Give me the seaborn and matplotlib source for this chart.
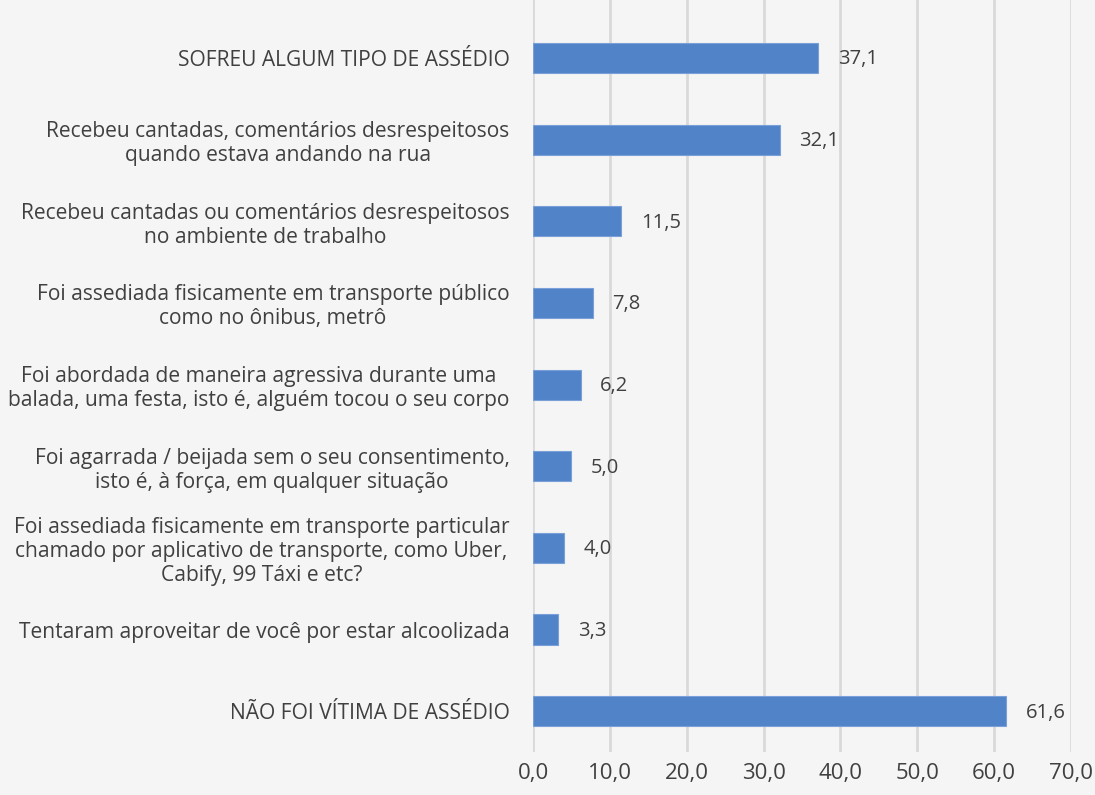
import pandas as pd
import seaborn as sb
import matplotlib.pyplot as plt

categories = [
    'SOFREU ALGUM TIPO DE ASSÉDIO',
    'Recebeu cantadas, comentários desrespeitosos\nquando estava andando na rua',
    'Recebeu cantadas ou comentários desrespeitosos\nno ambiente de trabalho',
    'Foi assediada fisicamente em transporte público\ncomo no ônibus, metrô',
    'Foi abordada de maneira agressiva durante uma\nbalada, uma festa, isto é, alguém tocou o seu corpo',
    'Foi agarrada / beijada sem o seu consentimento,\nisto é, à força, em qualquer situação',
    'Foi assediada fisicamente em transporte particular\nchamado por aplicativo de transporte, como Uber,\nCabify, 99 Táxi e etc?',
    'Tentaram aproveitar de você por estar alcoolizada',
    'NÃO FOI VÍTIMA DE ASSÉDIO',
]
values = [37.1, 32.1, 11.5, 7.8, 6.2, 5.0, 4.0, 3.3, 61.6]
x_ticks = [0, 10, 20, 30, 40, 50, 60, 70]

df = pd.DataFrame({'categoria': categories, 'valor': values})

bg = '#f5f5f5'
txt = '#404040'
sb.set_style('white')
plt.rcParams['font.family'] = ['Open Sans', 'DejaVu Sans']

fig = plt.figure(figsize=(10.95, 7.95), dpi=100, facecolor=bg)
ax = fig.add_axes([0.4868, 0.054, 0.4913, 0.946])
ax.set_facecolor(bg)

sb.barplot(data=df, y='categoria', x='valor', orient='h', color='#5183c9',
           width=0.37, saturation=1, edgecolor='#7aa0d8', linewidth=0.8, ax=ax)

for i, v in enumerate(values):
    ax.annotate(f'{v:.1f}'.replace('.', ','), (v, i), xytext=(14, -1),
                textcoords='offset points', va='center', ha='left',
                fontsize=14.5, color=txt)

ax.set_xlim(0, 70)
ax.set_ylim(8.5, -0.71)
ax.set_xticks(x_ticks)
ax.set_xticklabels([f'{t:.1f}'.replace('.', ',') for t in x_ticks], fontsize=16, color=txt)
ax.tick_params(axis='x', length=0, pad=8)
ax.tick_params(axis='y', length=0, pad=17)
for lab in ax.get_yticklabels():
    lab.set_fontsize(15.1)
    lab.set_color(txt)
    lab.set_multialignment('center')
    lab.set_linespacing(1.18)
ax.grid(axis='x', color='#d9d9d9', linewidth=2)
ax.set_axisbelow(True)
for s in ax.spines.values():
    s.set_visible(False)
ax.set_xlabel('')
ax.set_ylabel('')

fig.savefig('out.png', dpi=100, facecolor=bg)
